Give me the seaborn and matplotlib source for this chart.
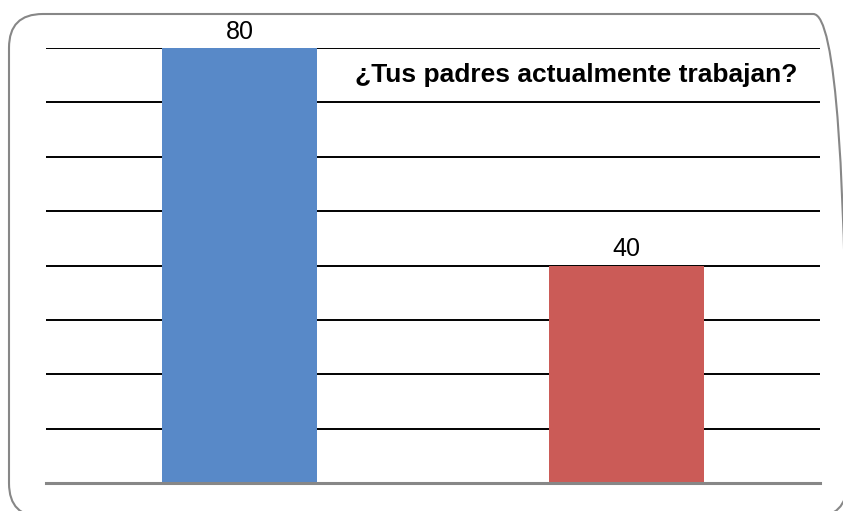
import matplotlib
matplotlib.use("Agg")
import matplotlib.pyplot as plt
import seaborn as sns
import pandas as pd
from matplotlib.patches import FancyBboxPatch

categories = ["Sí", "No"]
values = [80, 40]
colors = ["#5889C8", "#CB5B57"]
title = "¿Tus padres actualmente trabajan?"

sns.set_style("white")
plt.rcParams["font.family"] = ["Liberation Sans", "DejaVu Sans"]

fig = plt.figure(figsize=(8.43, 5.11), dpi=100)
ax = fig.add_axes([46/843, 28/511, 774/843, 435/511])

df = pd.DataFrame({"cat": categories, "val": values})
sns.barplot(data=df, x="cat", y="val", hue="cat", palette=colors,
            width=0.4, legend=False, ax=ax, saturation=1, zorder=3,
            linewidth=0)

ax.set_ylim(0, 80)
ax.set_yticks(range(10, 81, 10))
ax.yaxis.grid(True, color="black", linewidth=1.4, zorder=0)
ax.set_axisbelow(True)
ax.set_xlabel("")
ax.set_ylabel("")
ax.set_xticks([])
ax.set_yticks(range(10, 81, 10))
ax.tick_params(left=False, labelleft=False, bottom=False, labelbottom=False)
for s in ["top", "right", "left"]:
    ax.spines[s].set_visible(False)
ax.spines["bottom"].set_color("#878787")
ax.spines["bottom"].set_linewidth(2.2)
ax.spines["bottom"].set_zorder(4)

for i, v in enumerate(values):
    ax.text(i, v + 0.8, f"{v}", ha="center", va="bottom", fontsize=18,
            color="black", clip_on=False)

ax.text(0.685, 0.938, title, transform=ax.transAxes, ha="center", va="center",
        fontsize=19, fontweight="bold", color="black")

frame = FancyBboxPatch((9/843, -6/511), 838/843, 503/511,
                       boxstyle="round,pad=0,rounding_size=0.04",
                       transform=fig.transFigure, fill=False,
                       edgecolor="#878787", linewidth=1.5, zorder=0,
                       mutation_aspect=843/511)
fig.patches.append(frame)

fig.savefig("out.png", dpi=100)
